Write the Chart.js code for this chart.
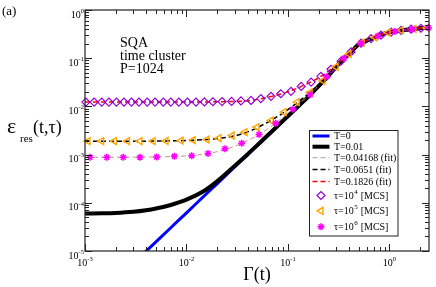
<!DOCTYPE html>
<html>
<head>
<meta charset="utf-8">
<script src="https://cdn.jsdelivr.net/npm/chart.js@4.4.0/dist/chart.umd.min.js"></script>
<style>
  html, body { margin: 0; padding: 0; background: #fff; }
  #wrap { width: 436px; height: 287px; }
</style>
</head>
<body>
<div id="wrap"><canvas id="chart" width="436" height="287"></canvas></div>
<script>
// --- values ---
const GAMMA = [0.001, 0.0015, 0.002, 0.003, 0.004, 0.005, 0.007, 0.01, 0.015, 0.02, 0.03, 0.04, 0.05, 0.07, 0.1,
               0.13, 0.16, 0.2, 0.25, 0.3, 0.35, 0.4, 0.5, 0.6, 0.7, 0.8, 1.0, 1.3, 1.6, 2.0, 2.45];

// T=0 (blue)
const EPS_T0 = [6.2e-7, 1.4e-6, 2.5e-6, 5.6e-6, 9.9e-6, 1.55e-5, 3.04e-5, 6.2e-5, 1.4e-4, 2.48e-4, 5.6e-4, 9.9e-4, 1.55e-3, 3.04e-3, 6.2e-3,
                1.05e-2, 1.6e-2, 2.6e-2, 4.3e-2, 6.7e-2, 9.5e-2, 0.121, 0.195, 0.232, 0.265, 0.30, 0.345, 0.376, 0.396, 0.416, 0.431];
// T=0.01 (black)
const EPS_T001 = [6.0e-5, 6.05e-5, 6.15e-5, 6.5e-5, 7.0e-5, 7.6e-5, 9.0e-5, 1.16e-4, 1.78e-4, 2.78e-4, 5.9e-4, 1.02e-3, 1.58e-3, 3.08e-3, 6.3e-3,
                  1.07e-2, 1.62e-2, 2.62e-2, 4.3e-2, 6.7e-2, 9.5e-2, 0.121, 0.195, 0.232, 0.265, 0.30, 0.345, 0.376, 0.396, 0.416, 0.431];
// fits
const EPS_T004 = [8.8e-4, 8.8e-4, 8.8e-4, 8.85e-4, 8.9e-4, 8.95e-4, 9.1e-4, 9.4e-4, 1.02e-3, 1.15e-3, 1.5e-3, 1.95e-3, 2.5e-3, 4.0e-3, 7.3e-3,
                  1.16e-2, 1.7e-2, 2.7e-2, 4.4e-2, 6.8e-2, 9.6e-2, 0.122, 0.196, 0.232, 0.265, 0.30, 0.345, 0.376, 0.396, 0.416, 0.431];
const EPS_T006 = [1.9e-3, 1.9e-3, 1.9e-3, 1.9e-3, 1.9e-3, 1.91e-3, 1.93e-3, 1.96e-3, 2.04e-3, 2.15e-3, 2.45e-3, 2.95e-3, 3.65e-3, 5.3e-3, 8.6e-3,
                  1.3e-2, 1.86e-2, 2.8e-2, 4.5e-2, 6.9e-2, 9.7e-2, 0.123, 0.197, 0.233, 0.265, 0.30, 0.345, 0.376, 0.396, 0.416, 0.431];
const EPS_T018 = [0.0123, 0.0123, 0.0123, 0.0123, 0.0123, 0.0123, 0.0123, 0.0123, 0.0124, 0.0125, 0.0127, 0.0131, 0.014, 0.0163, 0.02,
                  0.025, 0.0305, 0.039, 0.054, 0.074, 0.1, 0.126, 0.2, 0.234, 0.266, 0.30, 0.345, 0.376, 0.396, 0.416, 0.431];

// MCS points
const TAU4_G = [0.00102, 0.00123, 0.00146, 0.00172, 0.00204, 0.00242, 0.00287, 0.0034, 0.0041, 0.0049, 0.0059, 0.0070, 0.0084, 0.0102,
                0.0124, 0.015, 0.0182, 0.0224, 0.0278, 0.0344, 0.0432, 0.054, 0.068, 0.085, 0.107, 0.135, 0.169, 0.211, 0.265,
                0.333, 0.418, 0.524, 0.658, 0.824, 1.035, 1.30, 1.63, 2.04];
const TAU4_E = [0.0123, 0.0123, 0.0123, 0.0123, 0.0123, 0.0123, 0.0123, 0.0123, 0.0123, 0.0123, 0.0123, 0.0123, 0.0123, 0.0123,
                0.0123, 0.0124, 0.0125, 0.0126, 0.0127, 0.013, 0.0133, 0.0145, 0.0162, 0.0183, 0.0205, 0.026, 0.032, 0.042, 0.059,
                0.087, 0.135, 0.205, 0.255, 0.30, 0.348, 0.378, 0.40, 0.418];
const TAU5_G = [0.00107, 0.00146, 0.00195, 0.00262, 0.00348, 0.00468, 0.00628, 0.00883, 0.0116, 0.0159, 0.0209, 0.0281, 0.0377,
                0.0495, 0.068, 0.0914, 0.123, 0.165, 0.221, 0.297, 0.399, 0.536, 0.719, 0.966, 1.30, 1.74, 2.34];
const TAU5_E = [1.9e-3, 1.9e-3, 1.9e-3, 1.9e-3, 1.9e-3, 1.91e-3, 1.92e-3, 1.95e-3, 2.0e-3, 2.05e-3, 2.19e-3, 2.49e-3, 2.92e-3,
                3.7e-3, 5.1e-3, 7.6e-3, 0.0123, 0.0195, 0.034, 0.066, 0.122, 0.21, 0.27, 0.34, 0.378, 0.405, 0.428];
const TAU6_G = [0.00112, 0.00164, 0.00238, 0.00348, 0.00508, 0.00759, 0.01125, 0.0163, 0.0239, 0.035, 0.0518, 0.0757, 0.112,
                0.165, 0.242, 0.356, 0.524, 0.771, 1.13, 1.67, 2.42];
const TAU6_E = [8.8e-4, 8.8e-4, 8.8e-4, 8.85e-4, 8.9e-4, 9.2e-4, 9.5e-4, 1.06e-3, 1.33e-3, 1.72e-3, 2.61e-3, 4.49e-3, 8.7e-3,
                0.0175, 0.041, 0.1, 0.205, 0.29, 0.36, 0.40, 0.43];

const X_DECADES = [0.001, 0.01, 0.1, 1];
const Y_DECADES = [1e-5, 1e-4, 1e-3, 1e-2, 1e-1, 1];

const FONT = '"Liberation Serif", "Times New Roman", serif';

function pts(xs, ys) { return xs.map((x, i) => ({ x: x, y: ys[i] })); }

function lineSet(label, ys, color, width, dash, order) {
    return {
        label: label, data: pts(GAMMA, ys), borderColor: color, borderWidth: width, borderDash: dash,
        pointRadius: 0, fill: false, cubicInterpolationMode: 'monotone', clip: 0, order: order
    };
}
function markSet(label, xs, ys, color, style, rot, r, bw, order) {
    return {
        label: label, data: pts(xs, ys), showLine: false, pointStyle: style, pointRotation: rot,
        pointRadius: r, pointBorderColor: color, pointBackgroundColor: 'rgba(0,0,0,0)', pointBorderWidth: bw,
        borderColor: color, clip: false, order: order
    };
}

// superscript helper: draws "base^exp rest"
function drawSupText(ctx, txt, x, y, size) {
    const m = txt.match(/^(.*)\^(-?\d+)(.*)$/);
    ctx.font = size + 'px ' + FONT;
    if (!m) { ctx.fillText(txt, x, y); return; }
    ctx.fillText(m[1], x, y);
    let cx = x + ctx.measureText(m[1]).width;
    ctx.font = (size * 0.7) + 'px ' + FONT;
    ctx.fillText(m[2], cx + 0.5, y - size * 0.42);
    cx += ctx.measureText(m[2]).width + 1;
    ctx.font = size + 'px ' + FONT;
    ctx.fillText(m[3], cx, y);
}

const decor = {
    id: 'decor',
    afterDraw(chart) {
        const ctx = chart.ctx;
        const a = chart.chartArea;
        const xs = chart.scales.x, ys = chart.scales.y;
        ctx.save();

        // frame
        ctx.strokeStyle = '#222';
        ctx.lineWidth = 1.2;
        ctx.strokeRect(a.left, a.top, a.right - a.left, a.bottom - a.top);

        // inward ticks on all four sides
        ctx.lineWidth = 1;
        ctx.beginPath();
        const xTick = (v, len) => {
            const px = Math.round(xs.getPixelForValue(v)) + 0.5;
            ctx.moveTo(px, a.bottom); ctx.lineTo(px, a.bottom - len);
            ctx.moveTo(px, a.top); ctx.lineTo(px, a.top + len);
        };
        const yTick = (v, len) => {
            const py = Math.round(ys.getPixelForValue(v)) + 0.5;
            ctx.moveTo(a.left, py); ctx.lineTo(a.left + len, py);
            ctx.moveTo(a.right, py); ctx.lineTo(a.right - len, py);
        };
        X_DECADES.forEach(d => {
            xTick(d, 7);
            for (let k = 2; k <= 9; k++) if (d * k <= xs.max) xTick(d * k, 4);
        });
        Y_DECADES.forEach(d => {
            yTick(d, 7);
            if (d < 1) for (let k = 2; k <= 9; k++) yTick(d * k, 4);
        });
        ctx.stroke();

        // tick labels
        ctx.fillStyle = '#000';
        ctx.textBaseline = 'alphabetic';
        Y_DECADES.forEach(d => {
            const py = ys.getPixelForValue(d);
            const e = String(Math.round(Math.log10(d)));
            ctx.font = '6.5px ' + FONT;
            const ew = ctx.measureText(e).width;
            ctx.textAlign = 'right';
            ctx.fillText(e, a.left - 1, py + 2.7);
            ctx.font = '10px ' + FONT;
            ctx.fillText('10', a.left - 1 - ew, py + 7.5);
        });
        X_DECADES.forEach(d => {
            const px = xs.getPixelForValue(d);
            const e = String(Math.round(Math.log10(d)));
            ctx.font = '10px ' + FONT;
            const bw = ctx.measureText('10').width;
            ctx.font = '6.5px ' + FONT;
            const ew = ctx.measureText(e).width;
            const x0 = px - (bw + ew) / 2;
            ctx.textAlign = 'left';
            ctx.font = '10px ' + FONT;
            ctx.fillText('10', x0, a.bottom + 15);
            ctx.font = '6.5px ' + FONT;
            ctx.fillText(e, x0 + bw, a.bottom + 9.5);
        });

        // axis titles
        ctx.textAlign = 'left';
        ctx.font = '22px ' + FONT;
        ctx.fillText('ε', 7, 133);
        ctx.font = '11px ' + FONT;
        ctx.fillText('res', 20, 141.5);
        ctx.font = '18px ' + FONT;
        ctx.fillText('(t,τ)', 33, 133);
        ctx.textAlign = 'center';
        ctx.fillText('Γ(t)', (a.left + a.right) / 2, 280);

        // panel label and annotation
        ctx.textAlign = 'left';
        ctx.font = '13px ' + FONT;
        ctx.fillText('(a)', 2, 15);
        ctx.font = '14px ' + FONT;
        ctx.fillText('SQA', 120, 46.5);
        ctx.fillText('time cluster', 120, 59.5);
        ctx.fillText('P=1024', 120, 72.5);

        // legend box
        const L = { left: 309.5, top: 130.5, right: 398, bottom: 236 };
        ctx.fillStyle = '#fff';
        ctx.fillRect(L.left, L.top, L.right - L.left, L.bottom - L.top);
        ctx.strokeStyle = '#222';
        ctx.lineWidth = 1;
        ctx.strokeRect(L.left, L.top, L.right - L.left, L.bottom - L.top);
        const rowY = [136, 146.7, 157.7, 169.5, 181.5, 195.5, 210.8, 226.8];
        const drawPoint = Chart.helpers && Chart.helpers.drawPoint;
        chart.data.datasets.forEach((ds, i) => {
            const y = rowY[i];
            if (ds.showLine === false) {
                ctx.strokeStyle = ds.pointBorderColor;
                ctx.fillStyle = 'rgba(0,0,0,0)';
                ctx.lineWidth = ds.pointBorderWidth;
                if (drawPoint) drawPoint(ctx, { pointStyle: ds.pointStyle, rotation: ds.pointRotation, radius: ds.pointRadius, borderWidth: ds.pointBorderWidth }, 321, y);
            } else {
                ctx.strokeStyle = ds.borderColor;
                ctx.lineWidth = ds.borderWidth;
                ctx.setLineDash(ds.borderDash || []);
                ctx.beginPath();
                ctx.moveTo(312.5, y); ctx.lineTo(329.5, y);
                ctx.stroke();
                ctx.setLineDash([]);
            }
            ctx.fillStyle = '#000';
            ctx.textBaseline = 'middle';
            ctx.textAlign = 'left';
            drawSupText(ctx, ds.label, 334, y + 0.5, 10);
        });
        ctx.restore();
    }
};

new Chart(document.getElementById('chart'), {
    type: 'line',
    data: {
        datasets: [
            lineSet('T=0', EPS_T0, '#0000ff', 3, [], 10),
            lineSet('T=0.01', EPS_T001, '#000000', 4, [], 9),
            lineSet('T=0.04168 (fit)', EPS_T004, '#c89090', 1, [5, 3], 8),
            lineSet('T=0.0651 (fit)', EPS_T006, '#000000', 1.5, [5, 3], 7),
            lineSet('T=0.1826 (fit)', EPS_T018, '#ff0000', 1.5, [5, 3], 6),
            markSet('τ=10^4 [MCS]', TAU4_G, TAU4_E, '#9400d3', 'rectRot', 0, 4, 1.2, 3),
            markSet('τ=10^5 [MCS]', TAU5_G, TAU5_E, '#ffa500', 'triangle', -90, 4, 1.4, 2),
            markSet('τ=10^6 [MCS]', TAU6_G, TAU6_E, '#ff00ff', 'star', 0, 3.5, 1.5, 1)
        ]
    },
    options: {
        responsive: false,
        animation: false,
        devicePixelRatio: 1,
        layout: { padding: { left: 85, right: 7, top: 10, bottom: 36 } },
        scales: {
            x: { type: 'logarithmic', min: 0.001, max: 2.45, display: false },
            y: { type: 'logarithmic', min: 1e-5, max: 1, display: false }
        },
        plugins: { legend: { display: false }, tooltip: { enabled: false } }
    },
    plugins: [decor]
});
</script>
</body>
</html>
